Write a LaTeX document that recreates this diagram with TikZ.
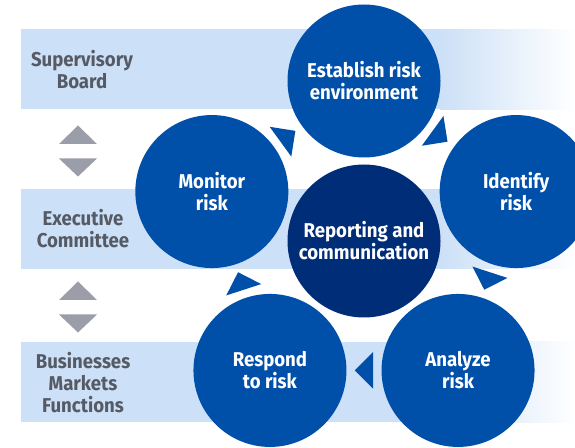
\documentclass[tikz,border=0pt]{standalone}
\usepackage{fontspec}
\setmainfont{Fira Sans}[FakeStretch=0.93]
\usetikzlibrary{calc}
\definecolor{riskblue}{RGB}{0,80,170}
\definecolor{coreblue}{RGB}{0,45,120}
\definecolor{bandblue}{RGB}{204,224,247}
\definecolor{levelgrey}{RGB}{155,157,168}
\definecolor{labelgrey}{RGB}{85,90,100}

\begin{document}
\begin{tikzpicture}[x=1pt,y=1pt,
    stage/.style={circle, fill=riskblue, text=white, minimum size=153pt, inner sep=0pt, align=center, font=\bfseries\fontsize{20}{22}\selectfont},
    core/.style={stage, fill=coreblue},
    level/.style={text=labelgrey, align=center, font=\bfseries\fontsize{20}{22}\selectfont},
    cycletip/.style={fill=riskblue},
    leveltip/.style={fill=levelgrey}]
        \useasboundingbox (0,0) rectangle (575,447);

        % bands
        \foreach \y in {337.7,178,25}{
            \fill[bandblue] (21,\y) rectangle (440.5,\y+80);
            \shade[left color=bandblue, right color=white] (440,\y) rectangle (575,\y+80);
        }
        \node[level] (board) at (82,377) {Supervisory\\Board};
        \node[level] (committee) at (83,218) {Executive\\Committee};
        \node[level] (business) at (83,64.5) {Businesses\\Markets\\Functions};

        % up and down between the levels
        \foreach \y in {303,147}{
            \fill[leveltip] (59,\y) -- (97,\y) -- (78,\y+18.5) -- cycle;
            \fill[leveltip] (59,\y-14.5) -- (97,\y-14.5) -- (78,\y-32.5) -- cycle;
        }

        % the cycle
        \coordinate (hub) at (364,206);
        \node[core] (report) at (hub) {Reporting and\\communication};
        \node[stage] (establish) at ($(hub)+(90:160)$) {Establish risk\\environment};
        \node[stage] (identify) at ($(hub)+(18:160)$) {Identify\\risk};
        \node[stage] (analyze) at ($(hub)+(-54:160)$) {Analyze\\risk};
        \node[stage] (respond) at ($(hub)+(-126:160)$) {Respond\\to risk};
        \node[stage] (monitor) at ($(hub)+(162:160)$) {Monitor\\risk};

        \foreach \from/\to/\r in {establish/identify/-36, identify/analyze/-108, analyze/respond/180, respond/monitor/108, monitor/establish/36}
            \fill[cycletip, shift={($(\from)!0.5!(\to)$)}, rotate=\r] (9.2,0) -- (-9.2,18.4) -- (-9.2,-18.4) -- cycle;
    \end{tikzpicture}
\end{document}
